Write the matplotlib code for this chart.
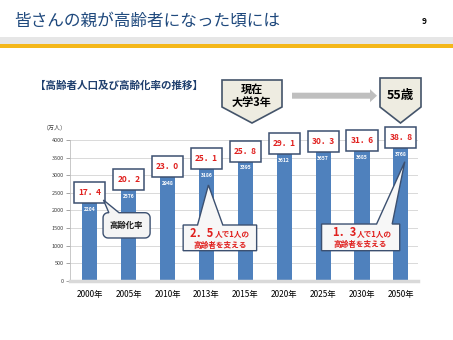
import numpy as np
import matplotlib
matplotlib.use('Agg')
import matplotlib.pyplot as plt
from matplotlib.patches import Rectangle, Polygon

plt.rcParams['font.family'] = ['Noto Sans CJK JP', 'DejaVu Sans']

# data
years = ['2000年', '2005年', '2010年', '2013年', '2015年', '2020年', '2025年', '2030年', '2050年']
elderly = [2204, 2576, 2948, 3186, 3395, 3612, 3657, 3685, 3768]   # 万人
aging_rate = [17.4, 20.2, 23.0, 25.1, 25.8, 29.1, 30.3, 31.6, 38.8]  # %
y_ticks = [0, 500, 1000, 1500, 2000, 2500, 3000, 3500, 4000]

W, H = 453, 340
BLUE = '#4F81BD'
RED = '#E0201E'
EDGE = '#3C5070'


def px(x, y):
    # pixel (from top-left) -> figure fraction
    return (x / W, 1 - y / H)


fig = plt.figure(figsize=(W / 100, H / 100), dpi=100)
fig.patch.set_facecolor('white')

# header band
fig.patches.append(Rectangle(px(0, 44), 1, 7 / H, transform=fig.transFigure,
                             fc='#E6E6E6', ec='none'))
fig.patches.append(Rectangle(px(0, 48), 1, 4 / H, transform=fig.transFigure,
                             fc='#F4B71A', ec='none'))
fig.text(*px(14, 21), '皆さんの親が高齢者になった頃には', fontsize=12,
         color='#1F497D', va='center', ha='left')
fig.text(*px(424, 22), '9', fontsize=6, fontweight='bold', va='center', ha='center')

fig.text(*px(35, 86), '【高齢者人口及び高齢化率の推移】', fontsize=7.6,
         fontweight='bold', color='#1F3F6E', va='center', ha='left')

# axes
ax = fig.add_axes([70 / W, 59.3 / H, 348 / W, 140.4 / H])
x = np.arange(len(years))
ax.bar(x, elderly, width=0.39, color=BLUE, zorder=2)
ax.set_xlim(-0.51, 8.44)
ax.set_ylim(0, 4000)
ax.set_yticks(y_ticks)
ax.set_xticks(x)
ax.set_xticklabels(years)
ax.grid(axis='y', color='#D9D9D9', lw=0.7, zorder=0)
ax.set_axisbelow(True)
for s in ['top', 'right']:
    ax.spines[s].set_visible(False)
ax.spines['left'].set_color('#BFBFBF')
ax.spines['left'].set_linewidth(0.6)
ax.spines['bottom'].set_color('#D9D9D9')
ax.spines['bottom'].set_linewidth(2.5)
ax.tick_params(axis='y', labelsize=4, colors='#808080', labelcolor='#404040',
               length=3, width=0.5, pad=1.5)
ax.tick_params(axis='x', labelsize=6, length=0, pad=7)

fig.text(*px(55, 128), '（万人）', fontsize=4.3, color='#404040', va='center', ha='center')

# px per data unit
PX_X = 348 / 8.95
PX_Y = 140.4 / 4000

# bar value labels and aging-rate boxes
box_w = 0.8
box_h = 21 / PX_Y
for i, (v, r) in enumerate(zip(elderly, aging_rate)):
    ax.annotate(str(v), (i, v), xytext=(0, -4.5), textcoords='offset points',
                ha='center', va='center', fontsize=3.6, color='white',
                fontweight='bold', zorder=3)
    ax.add_patch(Rectangle((i - box_w / 2, v), box_w, box_h, fc='white', ec=EDGE,
                           lw=1.1, clip_on=False, zorder=4))
    ax.text(i, v + box_h / 2, f'{r:.1f}'.replace('.', '．'), ha='center', va='center',
            fontsize=6, fontweight='bold', color=RED, zorder=5, clip_on=False)


def callout(x0, x1, y0, y1, base, tip, r_px, fc):
    rx, ry = r_px / PX_X, r_px / PX_Y
    pts = []
    t = np.linspace(0, np.pi / 2, 8)
    arcs = [((x1 - rx, y0 + ry), -np.pi / 2), ((x1 - rx, y1 - ry), 0)]
    for (cx, cy), a0 in arcs:
        pts += list(zip(cx + rx * np.cos(a0 + t), cy + ry * np.sin(a0 + t)))
    pts += [(base[1], y1), tip, (base[0], y1)]
    arcs = [((x0 + rx, y1 - ry), np.pi / 2), ((x0 + rx, y0 + ry), np.pi)]
    for (cx, cy), a0 in arcs:
        pts += list(zip(cx + rx * np.cos(a0 + t), cy + ry * np.sin(a0 + t)))
    ax.add_patch(Polygon(pts, closed=True, fc=fc, ec=EDGE, lw=1.0, zorder=6,
                         clip_on=False))


# 高齢化率 callout
callout(0.34, 1.55, 1217, 1937, (0.49, 0.75), (0.35, 2299), 5, '#F4F4F4')
ax.text((0.34 + 1.55) / 2, (1217 + 1937) / 2, '高齢化率', ha='center', va='center',
        fontsize=6, fontweight='bold', color='#1A1A1A', zorder=7)


def support_box(x0, x1, y0, y1, base, tip, big, dx):
    callout(x0, x1, y0, y1, base, tip, 0, '#F7F7F7')
    cx = (x0 + x1) / 2
    yl1 = y1 - 0.45 * (y1 - y0)
    yl2 = y1 - 0.78 * (y1 - y0)
    ax.annotate(big, (cx, yl1), xytext=(dx, 0), textcoords='offset points',
                ha='right', va='baseline', fontsize=8, fontweight='bold',
                color=RED, zorder=7)
    ax.annotate('人で1人の', (cx, yl1), xytext=(dx, 0), textcoords='offset points',
                ha='left', va='baseline', fontsize=5.5, fontweight='bold',
                color=RED, zorder=7)
    ax.text(cx, yl2, '高齢者を支える', ha='center', va='center', fontsize=5.5,
            fontweight='bold', color=RED, zorder=7)


support_box(2.40, 4.29, 855, 1587, (2.77, 3.42), (3.05, 2726), '2．5', -4)
support_box(5.96, 7.97, 855, 1615, (7.375, 7.776), (8.10, 3390), '1．3', -3)

# pentagon markers


def pentagon(xl, xr, top, bottom, tip_y):
    xc = (xl + xr) / 2
    pts = [px(xl, top), px(xr, top), px(xr, bottom), px(xc, tip_y), px(xl, bottom)]
    fig.patches.append(Polygon(pts, closed=True, transform=fig.transFigure,
                               fc='#EEECE1', ec='#44546A', lw=1.2))
    return xc


xc = pentagon(222, 282, 80, 107, 123)
fig.text(*px(xc, 89), '現在', fontsize=8, fontweight='bold', ha='center', va='center')
fig.text(*px(xc, 102), '大学3年', fontsize=8, fontweight='bold', ha='center', va='center')
xc = pentagon(380, 421, 78, 107, 123)
fig.text(*px(xc, 96), '55歳', fontsize=9, fontweight='bold', ha='center', va='center')

# gray arrow
ay = 95.7
arrow = [px(292, ay - 3), px(370, ay - 3), px(370, ay - 6.5), px(377, ay),
         px(370, ay + 6.5), px(370, ay + 3), px(292, ay + 3)]
fig.patches.append(Polygon(arrow, closed=True, transform=fig.transFigure,
                           fc='#BFBFBF', ec='none'))

fig.savefig('out.png', dpi=100)
